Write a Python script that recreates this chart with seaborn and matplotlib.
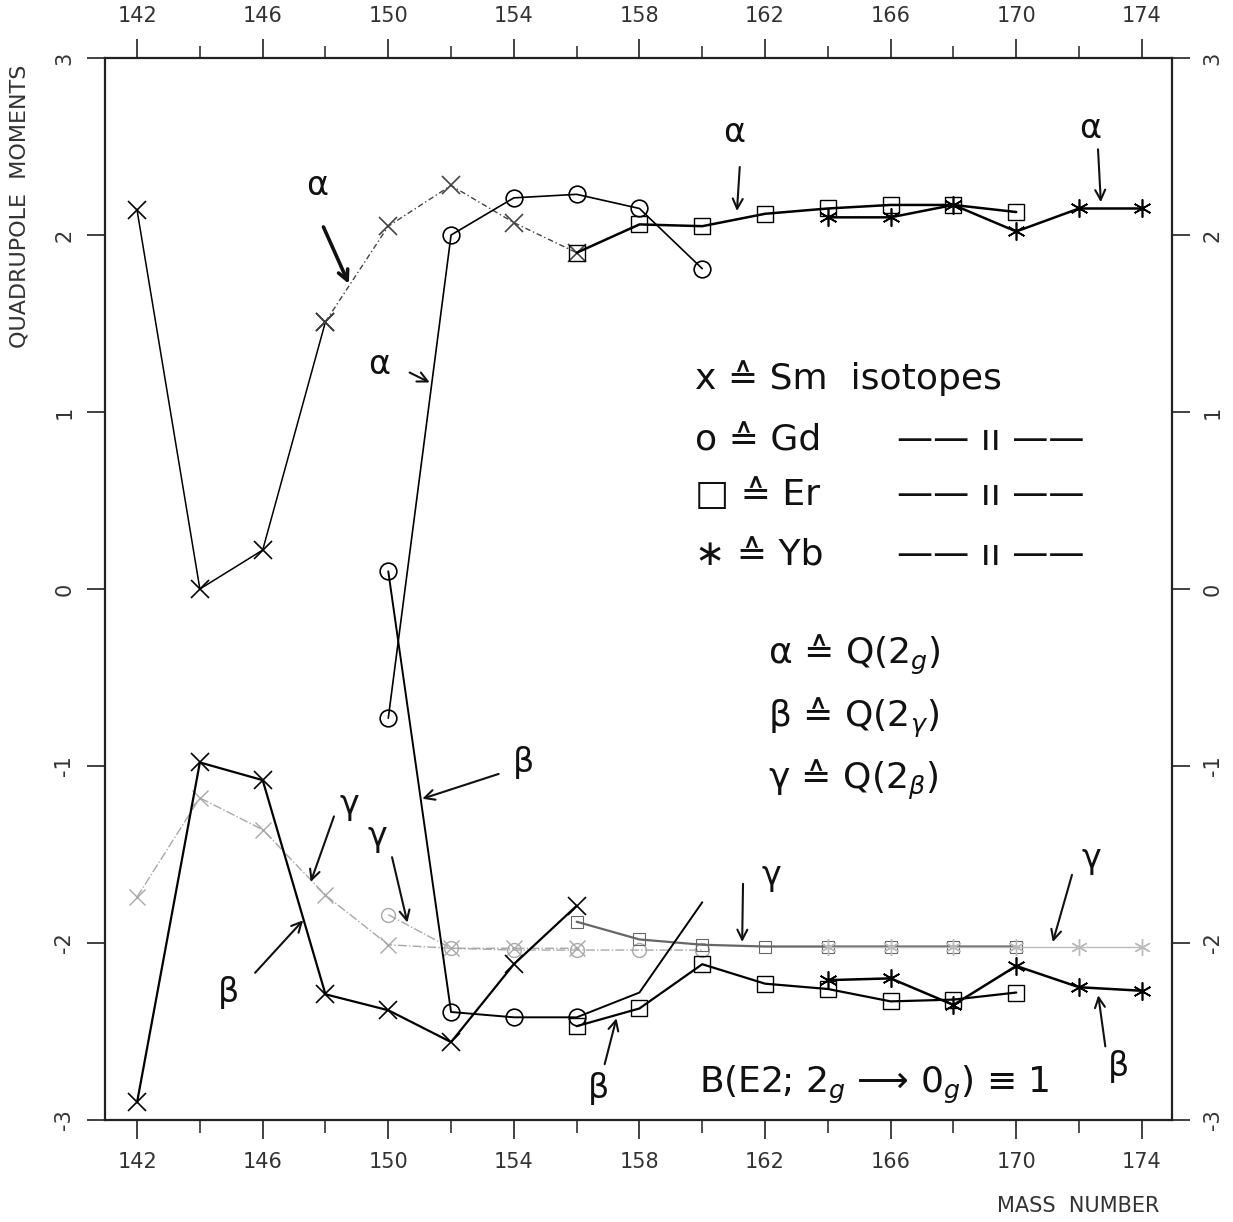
import seaborn as sns
import matplotlib.pyplot as plt

# mass numbers per isotope chain
sm_mass = [142, 144, 146, 148, 150, 152, 154, 156]
gd_mass = [150, 152, 154, 156, 158, 160]
er_mass = [156, 158, 160, 162, 164, 166, 168, 170]
yb_mass = [164, 166, 168, 170, 172, 174]

# alpha = Q(2g), beta = Q(2gamma), gamma = Q(2beta)
sm_alpha = [2.14, 0.00, 0.22, 1.51, 2.05, 2.28, 2.07, 1.90]
sm_beta = [-2.90, -0.98, -1.08, -2.29, -2.38, -2.56, -2.12, -1.79]
sm_gamma = [-1.74, -1.18, -1.36, -1.73, -2.01, -2.03, -2.03, -2.03]

gd_alpha = [-0.73, 2.00, 2.21, 2.23, 2.15, 1.81]
gd_beta = [0.10, -2.39, -2.42, -2.42, -2.28, -1.77]
gd_gamma = [-1.84, -2.03, -2.04, -2.04, -2.04, -2.04]

er_alpha = [1.90, 2.06, 2.05, 2.12, 2.15, 2.17, 2.17, 2.13]
er_beta = [-2.47, -2.37, -2.12, -2.23, -2.26, -2.33, -2.32, -2.28]
er_gamma = [-1.88, -1.98, -2.01, -2.02, -2.02, -2.02, -2.02, -2.02]

yb_alpha = [2.10, 2.10, 2.17, 2.02, 2.15, 2.15]
yb_beta = [-2.21, -2.20, -2.35, -2.13, -2.25, -2.27]
yb_gamma = [-2.02, -2.02, -2.02, -2.02, -2.02, -2.02]

x_ticks = [142, 146, 150, 154, 158, 162, 166, 170, 174]
y_ticks = [-3, -2, -1, 0, 1, 2, 3]

sns.set_style("ticks")
plt.rcParams['font.family'] = ['DejaVu Sans']
plt.rcParams['axes.unicode_minus'] = False

fig = plt.figure(figsize=(12.33, 12.22), dpi=100)
ax = fig.add_axes([0.0852, 0.0835, 0.8653, 0.869])

star = (6, 2, 0)


def draw(x, y, marker, color="black", ls="-", lw=1.3, ms=13, mew=1.2, every=None):
    sns.lineplot(x=x, y=y, ax=ax, color=color, linestyle=ls, linewidth=lw,
                 marker=marker, markersize=ms, markerfacecolor="none",
                 markeredgecolor=color, markeredgewidth=mew, sort=False,
                 markevery=every)


# gamma curves (faint)
draw(sm_mass, sm_gamma, "x", color="#a8a8a8", ls="-.", lw=1.0, ms=11, mew=1.0)
draw(gd_mass, gd_gamma, "o", color="#a8a8a8", ls="-.", lw=1.0, ms=10, mew=1.0)
draw(er_mass, er_gamma, "s", color="#666666", lw=1.6, ms=9, mew=0.8)
draw(yb_mass, yb_gamma, star, color="#bbbbbb", lw=1.0, ms=12, mew=1.0)

# alpha curves
draw(sm_mass[:4], sm_alpha[:4], "x", lw=1.1)
draw(sm_mass[3:], sm_alpha[3:], "x", ls=(0, (4, 2, 1, 2)), lw=1.0, color="#444444")
draw(gd_mass, gd_alpha, "o", lw=1.2, ms=12)
draw(er_mass, er_alpha, "s", lw=1.8, ms=11, mew=1.0)
draw(yb_mass, yb_alpha, star, lw=1.8)

# beta curves
draw(sm_mass, sm_beta, "x", lw=1.6)
draw(gd_mass, gd_beta, "o", lw=1.4, ms=12, every=[0, 1, 2, 3])
draw(er_mass, er_beta, "s", lw=1.6, ms=11, mew=1.0)
draw(yb_mass, yb_beta, star, lw=1.8)

ax.set_xlim(140.98, 174.96)
ax.set_ylim(-3, 3)
ax.set_xticks(x_ticks)
ax.set_xticks([144, 148, 152, 156, 160, 164, 168, 172], minor=True)
ax.set_yticks(y_ticks)
ax.set_xlabel("")
ax.set_ylabel("")

for s in ax.spines.values():
    s.set_linewidth(1.6)
    s.set_color("#222222")

ax.tick_params(axis="x", which="major", top=True, bottom=True, labeltop=True,
               direction="out", length=14, width=1.3, labelsize=15, pad=9,
               colors="#333333")
ax.tick_params(axis="x", which="minor", top=True, bottom=True,
               direction="out", length=9, width=1.2, color="#333333")
ax.tick_params(axis="y", left=True, right=True, labelright=True,
               direction="out", length=13, width=1.3, labelsize=15, pad=9,
               labelrotation=90, colors="#333333")
for lab in ax.get_yticklabels():
    lab.set_va("center")

fig.text(0.016, 0.947, "QUADRUPOLE  MOMENTS", rotation=90, ha="center",
         va="top", fontsize=16, color="#333333")
fig.text(0.94, 0.013, "MASS  NUMBER", ha="right", va="center", fontsize=15,
         color="#333333")

# handwritten key
key_kw = dict(fontsize=26, color="#111111", va="center", ha="left")
ax.text(159.77, 1.19, "x ≙ Sm  isotopes", **key_kw)
ax.text(159.77, 0.84, "o ≙ Gd", **key_kw)
ax.text(159.77, 0.53, "□ ≙ Er", **key_kw)
ax.text(159.77, 0.19, "∗ ≙ Yb", **key_kw)
for yy in [0.84, 0.53, 0.19]:
    ax.text(166.2, yy, "—— ıı ——", **key_kw)
ax.text(162.1, -0.37, r"α ≙ Q(2$_g$)", **key_kw)
ax.text(162.1, -0.73, r"β ≙ Q(2$_\gamma$)", **key_kw)
ax.text(162.1, -1.08, r"γ ≙ Q(2$_\beta$)", **key_kw)
ax.text(159.9, -2.80, r"B(E2; 2$_g$ ⟶ 0$_g$) ≡ 1", **key_kw)

# greek annotations with arrows
notes = [
    ("α", (161.0, 2.58), (161.2, 2.40), (161.1, 2.12), 1.5),
    ("α", (172.35, 2.60), (172.6, 2.50), (172.7, 2.17), 1.5),
    ("α", (147.75, 2.28), (147.9, 2.06), (148.78, 1.71), 2.6),
    ("α", (149.7, 1.27), (150.6, 1.23), (151.4, 1.16), 1.5),
    ("β", (154.3, -0.98), (153.6, -1.04), (151.0, -1.19), 1.5),
    ("β", (144.9, -2.28), (145.7, -2.18), (147.35, -1.86), 1.5),
    ("β", (156.7, -2.82), (156.87, -2.70), (157.29, -2.41), 1.5),
    ("β", (173.25, -2.70), (172.85, -2.60), (172.6, -2.28), 1.5),
    ("γ", (148.75, -1.22), (148.3, -1.27), (147.5, -1.67), 1.5),
    ("γ", (149.65, -1.40), (150.1, -1.50), (150.63, -1.90), 1.5),
    ("γ", (162.2, -1.62), (161.3, -1.65), (161.27, -2.01), 1.5),
    ("γ", (172.4, -1.52), (171.8, -1.60), (171.14, -2.01), 1.5),
]
for sym, tpos, start, end, w in notes:
    ax.text(tpos[0], tpos[1], sym, fontsize=24, ha="center", va="center",
            color="#111111")
    ax.annotate("", xy=end, xytext=start,
                arrowprops=dict(arrowstyle="->", lw=w, color="#111111",
                                mutation_scale=18))

fig.savefig("out.png", dpi=100)
